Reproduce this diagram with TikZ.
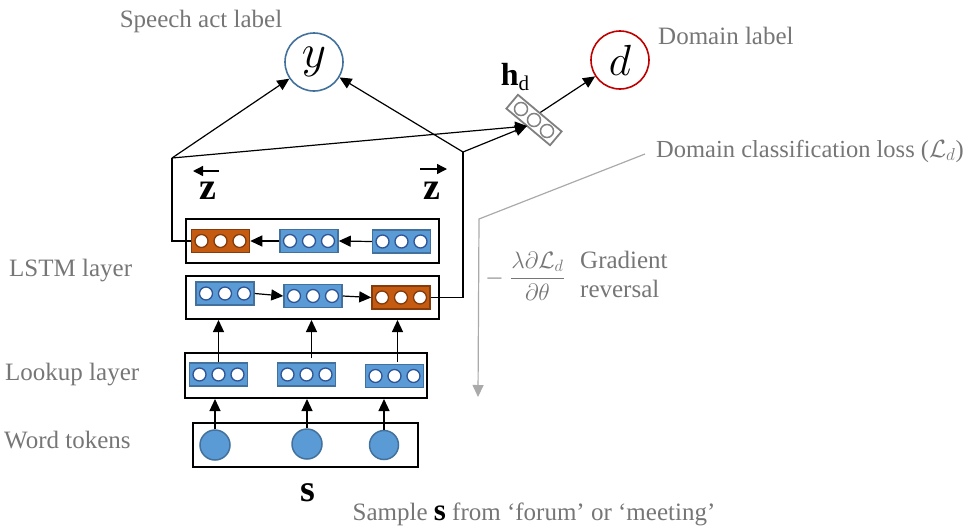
\documentclass[tikz,border=0pt]{standalone}
\usepackage{amsmath,amssymb}
\usepackage{graphicx}
\usepackage{fontspec}
\setmainfont{Liberation Serif}
\usetikzlibrary{arrows.meta,calc}
\definecolor{bfill}{RGB}{91,155,213}
\definecolor{bline}{RGB}{65,113,156}
\definecolor{bdot}{RGB}{47,85,151}
\definecolor{ofill}{RGB}{197,90,17}
\definecolor{oline}{RGB}{132,60,12}
\definecolor{odot}{RGB}{132,60,12}
\definecolor{txtgray}{RGB}{118,118,118}
\definecolor{lossgray}{RGB}{170,170,170}
\definecolor{dred}{RGB}{192,0,0}
\newcommand\mycell[4]{%
  \node[cellbox,fill=#4fill,draw=#4line] (#1) at (#2,#3) {};
  \foreach \dx in {-19,0,19} {\node[dotc,draw=#4dot] at ({#2+\dx},#3) {};}
}
\begin{document}
\begin{tikzpicture}[x=1pt,y=-1pt,
  every node/.style={font=\fontsize{25}{29}\selectfont},
  lbl/.style={text=txtgray,inner sep=0pt},
  layerbox/.style={draw=black,line width=2pt,inner sep=0pt},
  cellbox/.style={rectangle,line width=1.5pt,minimum width=58pt,minimum height=23pt,inner sep=0pt},
  dotc/.style={circle,fill=white,line width=1.3pt,minimum size=13pt,inner sep=0pt},
  tok/.style={circle,fill=bfill,draw=bline,line width=1.5pt,inner sep=0pt},
  arr/.style={line width=1.2pt,-{Triangle[length=12pt,width=11pt]}},
  zarr/.style={line width=1.4pt,-{Triangle[length=10pt,width=10pt]}},
  conn/.style={line width=1.2pt},
  outc/.style={circle,line width=1.6pt,minimum size=58pt,inner sep=0pt,fill=white}
]
\useasboundingbox (0,0) rectangle (971,528);

% layer boxes
\node[layerbox,minimum width=253pt,minimum height=44pt] (lstmT) at (312.5,241) {};
\node[layerbox,minimum width=253pt,minimum height=43pt] (lstmB) at (312.5,297.5) {};
\node[layerbox,minimum width=242pt,minimum height=45pt] (look) at (306,375.5) {};
\node[layerbox,minimum width=225pt,minimum height=44pt] (toks) at (305.5,445) {};

% cells
\mycell{T1}{220.5}{241}{o}
\mycell{T2}{309}{241}{b}
\mycell{T3}{401.5}{241.5}{b}
\mycell{B1}{225}{293.5}{b}
\mycell{B2}{313}{296}{b}
\mycell{B3}{401}{297.5}{o}
\mycell{L1}{218.5}{374.5}{b}
\mycell{L2}{306.5}{374.5}{b}
\mycell{L3}{394.5}{376}{b}

% tokens
\node[tok,minimum size=30pt] (w1) at (215,445) {};
\node[tok,minimum size=30pt] (w2) at (307,444) {};
\node[tok,minimum size=29pt] (w3) at (384,445) {};

% arrows inside rows
\draw[arr] (T2.west) -- (T1.east);
\draw[arr] (T3.west) -- (T2.east);
\draw[arr] (B1.east) -- (B2.west);
\draw[arr] (B2.east) -- (B3.west);

% vertical arrows
\draw[arr] (L1.north) -- (L1.north |- lstmB.south);
\draw[arr] ($(L2.north)+(5,-4)$) -- ($(L2.north |- lstmB.south)+(5,0)$);
\draw[arr] ($(L3.north)+(3,-2)$) -- ($(L3.north |- lstmB.south)+(3,0)$);
\draw[arr] (w1.north) -- (w1.north |- look.south);
\draw[arr] (w2.north) -- (w2.north |- look.south);
\draw[arr] (w3.north) -- (w3.north |- look.south);

% outputs
\node[outc,draw=bline] (y) at (314,62) {\scalebox{1.9}{$y$}};
\node[outc,draw=dred] (d) at (620,60) {\scalebox{1.75}{$d$}};
\node[draw=gray,line width=1.8pt,fill=white,minimum width=57pt,minimum height=18pt,inner sep=0pt,rotate=-40] (hd) at (534,120) {};
\foreach \cx/\cy in {521/109,534/120,547/131} {\node[circle,draw=gray,line width=1.5pt,minimum size=13pt,inner sep=0pt] at (\cx,\cy) {};}
\node[inner sep=0pt] (hdl) at (515,77) {\fontsize{32}{34}\selectfont\textbf{h}\raisebox{-5pt}{\fontsize{21}{22}\selectfont d}};

\coordinate (bl) at (172,158);
\coordinate (br) at (463,152);
\coordinate (hdin) at (527,126);

\draw[conn] (T1.west) -| (bl);
\draw[conn] (B3.east) -| (br);
\draw[arr] (bl) -- (y);
\draw[arr] (br) -- (y);
\draw[arr] (bl) -- (hdin);
\draw[arr] (br) -- (hdin);
\draw[arr] (hd.north) -- (d);

% z labels
\node[inner sep=0pt] (zl) at (208,191) {\fontsize{38}{40}\selectfont\textbf{z}};
\node[inner sep=0pt] (zr) at (432,191) {\fontsize{38}{40}\selectfont\textbf{z}};
\coordinate (zla) at ($(zl)+(11,-20)$);
\coordinate (zlb) at ($(zl)+(-15,-20)$);
\coordinate (zra) at ($(zr)+(-12,-22)$);
\coordinate (zrb) at ($(zr)+(15,-22)$);
\draw[zarr] (zla) -- (zlb);
\draw[zarr] (zra) -- (zrb);

% labels
\node[lbl] (speech) at (201,21) {Speech act label};
\node[lbl,anchor=west] (dom) at (658,36) {Domain label};
\node[lbl,anchor=west,font=\fontsize{24.5}{28}\selectfont] (loss) at (656,151) {Domain classification loss ($\mathcal{L}_d$)};
\node[lbl,anchor=west] (lstml) at (9,271) {LSTM layer};
\node[lbl,anchor=west] (lookl) at (5,375) {Lookup layer};
\node[lbl,anchor=west] (wordl) at (4,440) {Word tokens};
\node[inner sep=0pt] (s) at (308,493) {\fontsize{38}{40}\selectfont\textbf{s}};
\node[lbl] (sample) at (534,514) {Sample \textcolor{black}{\fontsize{31}{30}\selectfont\textbf{s}} from ‘forum’ or ‘meeting’};

% gradient reversal
\coordinate (g1) at (645,154);
\coordinate (g2) at (479,219);
\coordinate (g3) at (478,397);
\draw[lossgray,line width=1.2pt,-{Triangle[length=12pt,width=11pt]}] (g1) -- (g2) -- (g3);
\node[lbl,text=txtgray] (frac) at (525,276) {\scalebox{0.95}{$-\;\dfrac{\lambda\partial\mathcal{L}_d}{\partial\theta}$}};
\node[lbl,anchor=west,align=left,font=\fontsize{25}{29}\selectfont] (grad) at (580,274) {Gradient\\reversal};
\end{tikzpicture}
\end{document}
